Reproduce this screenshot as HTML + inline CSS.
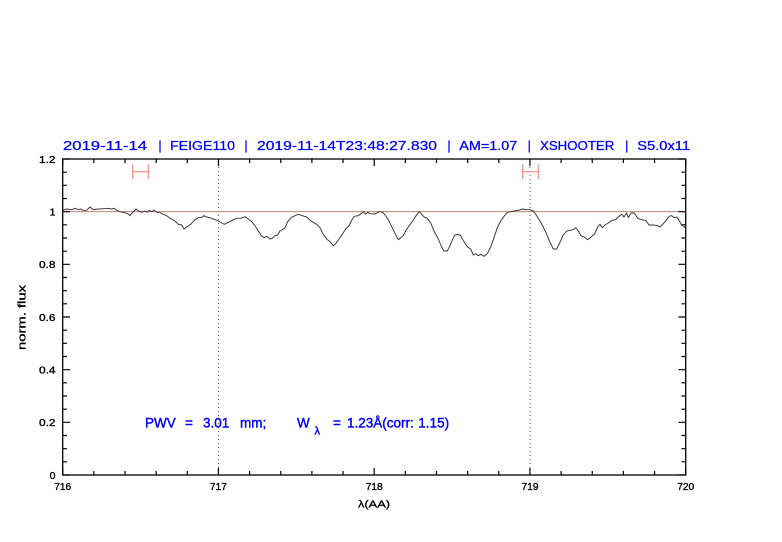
<!DOCTYPE html>
<html>
<head>
<meta charset="utf-8">
<style>
html,body{margin:0;padding:0;background:#fff;}
svg{display:block;}
text{font-family:"Liberation Sans","DejaVu Sans",sans-serif;}
</style>
</head>
<body>
<svg width="782" height="542" viewBox="0 0 782 542" xmlns="http://www.w3.org/2000/svg">
<rect width="782" height="542" fill="#fff"/>

<!-- title -->
<g fill="#0000ff" font-size="12.5" stroke="#0000ff" stroke-width="0.25">
<text x="63" y="150" textLength="84" lengthAdjust="spacingAndGlyphs">2019-11-14</text>
<text x="160" y="150" text-anchor="middle">|</text>
<text x="170" y="150" textLength="65" lengthAdjust="spacingAndGlyphs">FEIGE110</text>
<text x="246" y="150" text-anchor="middle">|</text>
<text x="257" y="150" textLength="180" lengthAdjust="spacingAndGlyphs">2019-11-14T23:48:27.830</text>
<text x="449" y="150" text-anchor="middle">|</text>
<text x="459.3" y="150" textLength="58" lengthAdjust="spacingAndGlyphs">AM=1.07</text>
<text x="529.3" y="150" text-anchor="middle">|</text>
<text x="540" y="150" textLength="74.3" lengthAdjust="spacingAndGlyphs">XSHOOTER</text>
<text x="626.7" y="150" text-anchor="middle">|</text>
<text x="637.3" y="150" textLength="52.7" lengthAdjust="spacingAndGlyphs">S5.0x11</text>
</g>

<!-- dotted verticals -->
<g stroke="#555" stroke-width="1" stroke-dasharray="1,3">
<line x1="218.45" y1="159" x2="218.45" y2="475"/>
<line x1="529.95" y1="159" x2="529.95" y2="475"/>
</g>

<!-- reference line y=1 -->
<line x1="62.7" y1="211.67" x2="685.7" y2="211.67" stroke="#c88080" stroke-width="1"/>

<!-- error bars -->
<g stroke="#ff8a8a" stroke-width="1.2" fill="none">
<line x1="132.7" y1="164.3" x2="132.7" y2="179"/>
<line x1="148.3" y1="164.3" x2="148.3" y2="179"/>
<line x1="132.7" y1="171.7" x2="148.3" y2="171.7"/>
<line x1="522.7" y1="164.3" x2="522.7" y2="179"/>
<line x1="538.3" y1="164.3" x2="538.3" y2="179"/>
<line x1="522.7" y1="171.7" x2="538.3" y2="171.7"/>
</g>

<!-- spectrum -->
<polyline fill="none" stroke="#333" stroke-width="0.95" stroke-linejoin="round" points="
62.7,210 63.3,210 66.7,209 71.7,209.7 75,208.3 78.3,209.7 80.7,209 82.7,210.3 86.7,210.3 90,207 93.3,209.7 98.3,209 103.3,208.7 108.3,208.3 111.7,209 114,208.3 116.7,210.3 120,211.7 125,212.7 128.3,214 130,215.7 131.7,213.3 134,211 136,209 138.3,211 141.7,212.3 145,211 147.3,212.3 149.3,210.3 151.7,211.7 154,210 156.7,212.3 160,212.7 163.3,214.3 166.7,215.7 170,218.3 175,221 178.3,224.3 181.7,225 184,229 186.7,227 190.7,224.3 195,219.7 198.3,217.7 201.7,217.3 204,215.7 206.7,217 211.7,218.3 216.7,220.3
218.3,221 221.7,223 224.3,224.3 226.7,223 230,221.7 233.3,219.7 236.7,218.3 241,218.3 245,216.7 248.3,219 251.7,221.7 255,225.7 258.3,231 261.7,236.3 264.3,237.7 266.7,236.3 270,239 272.3,238.3 275,235.7 277.7,235 280,231 283.3,229 285,227.7 287.7,221.7 291,217.7 295,215.7 298.3,214.3 302.3,215.7 306.7,217 310,220.3 313.3,222.3 316.7,224.3 320,227.7 323.3,234.3 326.7,239 330,241.7 333.3,245.7 335.7,243.7 339,239 342.3,234.3 345.7,229 349,225.7 351.7,220.3 354.3,216.3 358.3,215.7 361.7,213.3 363.3,211.7 365.7,214.3 367.7,212.3 370,213.7
375,214 379.3,211.7 382.7,212.3 385,215 388.3,219.7 391.7,226.7 395,233.3 398.3,239.7 400.7,237.7 403.3,235.7 406,230.3 409.3,225.7 412.7,221 416,215.7 419.3,211.7 421.7,214.3 424,217 427.3,218.3 430.7,223 434,231 438.3,239 441.7,247 444,251 447.3,251 450,245.7 452.7,239 455,235 458.3,234.3 460.7,235.7 464,241.7 467.3,246.7 470.7,249 473.3,255 476,253.7 478.3,255.7 480.7,254.3 484,256.3 487.3,253.7 490.7,247 494,237.7 497.3,227.7 500.7,221 504,216.3 507.3,212.3 510.7,211.7 514,211 518.3,210.3 522.7,209 526.7,209.7 530,209.7
533.3,211 536.7,215.7 540,221 543.3,227 546.7,234.3 550,242.3 553.3,249 556.7,249 560,242.3 563.3,235 566.7,231 570,230.3 573.3,229.7 575.7,227.7 578.3,231 581,235.7 584.3,237 587.7,239.7 591,237 594.3,234.3 597.7,227 600,224.3 602.3,227.7 605,225 608.3,223 612.3,220.3 615.7,219.7 618.3,217 621.7,214.3 624,217 626.7,213 628.3,217.7 631,213 634.3,213 637.7,218.3 641.7,219.7 645.7,220.3 649,225 653.3,225 657.7,225.7 660,227 663.3,223.7 666.7,219.7 669,216.3 671.7,215.7 674.3,217.7 676.7,217 679,220.3 681.7,225 684.3,227 686,228.3"/>

<!-- axes box -->
<rect x="62.7" y="159" width="623" height="316" fill="none" stroke="#000" stroke-width="1.3"/>

<!-- ticks -->
<g stroke="#000" stroke-width="1.2">
<path d="M62.7,475V468 M93.85,475V471 M125,475V471 M156.15,475V471 M187.3,475V471 M218.45,475V468 M249.6,475V471 M280.75,475V471 M311.9,475V471 M343.05,475V471 M374.2,475V468 M405.35,475V471 M436.5,475V471 M467.65,475V471 M498.8,475V471 M529.95,475V468 M561.1,475V471 M592.25,475V471 M623.4,475V471 M654.55,475V471 M685.7,475V468"/>
<path d="M62.7,159V166 M93.85,159V163 M125,159V163 M156.15,159V163 M187.3,159V163 M218.45,159V166 M249.6,159V163 M280.75,159V163 M311.9,159V163 M343.05,159V163 M374.2,159V166 M405.35,159V163 M436.5,159V163 M467.65,159V163 M498.8,159V163 M529.95,159V166 M561.1,159V163 M592.25,159V163 M623.4,159V163 M654.55,159V163 M685.7,159V166"/>
<path d="M62.7,475H70 M62.7,461.83H67 M62.7,448.67H67 M62.7,435.5H67 M62.7,422.33H70 M62.7,409.17H67 M62.7,396H67 M62.7,382.83H67 M62.7,369.67H70 M62.7,356.5H67 M62.7,343.33H67 M62.7,330.17H67 M62.7,317H70 M62.7,303.83H67 M62.7,290.67H67 M62.7,277.5H67 M62.7,264.33H70 M62.7,251.17H67 M62.7,238H67 M62.7,224.83H67 M62.7,211.67H70 M62.7,198.5H67 M62.7,185.33H67 M62.7,172.17H67 M62.7,159H70"/>
<path d="M685.7,475H678.4 M685.7,461.83H681.4 M685.7,448.67H681.4 M685.7,435.5H681.4 M685.7,422.33H678.4 M685.7,409.17H681.4 M685.7,396H681.4 M685.7,382.83H681.4 M685.7,369.67H678.4 M685.7,356.5H681.4 M685.7,343.33H681.4 M685.7,330.17H681.4 M685.7,317H678.4 M685.7,303.83H681.4 M685.7,290.67H681.4 M685.7,277.5H681.4 M685.7,264.33H678.4 M685.7,251.17H681.4 M685.7,238H681.4 M685.7,224.83H681.4 M685.7,211.67H678.4 M685.7,198.5H681.4 M685.7,185.33H681.4 M685.7,172.17H681.4 M685.7,159H678.4"/>
</g>

<!-- y tick labels -->
<g font-size="10.5" fill="#000" stroke="#000" stroke-width="0.35" text-anchor="end">
<text x="55.5" y="162.8" textLength="16.5" lengthAdjust="spacingAndGlyphs">1.2</text>
<text x="55.5" y="215.5">1</text>
<text x="55.5" y="268.1" textLength="16.5" lengthAdjust="spacingAndGlyphs">0.8</text>
<text x="55.5" y="320.8" textLength="16.5" lengthAdjust="spacingAndGlyphs">0.6</text>
<text x="55.5" y="373.5" textLength="16.5" lengthAdjust="spacingAndGlyphs">0.4</text>
<text x="55.5" y="426.1" textLength="16.5" lengthAdjust="spacingAndGlyphs">0.2</text>
<text x="55.5" y="478.8">0</text>
</g>

<!-- x tick labels -->
<g font-size="10.5" fill="#000" stroke="#000" stroke-width="0.35">
<text x="54.2" y="490" textLength="17" lengthAdjust="spacingAndGlyphs">716</text>
<text x="209.9" y="490" textLength="17" lengthAdjust="spacingAndGlyphs">717</text>
<text x="365.7" y="490" textLength="17" lengthAdjust="spacingAndGlyphs">718</text>
<text x="521.5" y="490" textLength="17" lengthAdjust="spacingAndGlyphs">719</text>
<text x="677.2" y="490" textLength="17" lengthAdjust="spacingAndGlyphs">720</text>
</g>

<!-- axis labels -->
<text x="358" y="507.5" font-size="10.5" fill="#000" stroke="#000" stroke-width="0.3" textLength="32" lengthAdjust="spacingAndGlyphs">λ(AA)</text>
<text transform="translate(25.5,317.5) rotate(-90)" x="0" y="0" font-size="11" fill="#000" stroke="#000" stroke-width="0.3" text-anchor="middle" textLength="65" lengthAdjust="spacingAndGlyphs">norm. flux</text>

<!-- annotation -->
<g fill="#0000ff" stroke="#0000ff" stroke-width="0.4" font-size="13.5">
<text x="145" y="427.7">PWV</text>
<text x="185" y="427.7">=</text>
<text x="203" y="427.7">3.01</text>
<text x="240" y="427.7">mm;</text>
<text x="297" y="427.7">W</text>
<text x="314.5" y="434.5" font-size="11">λ</text>
<text x="333" y="427.7">=</text>
<text x="347" y="427.7">1.23Å(corr:</text>
<text x="418.3" y="427.7">1.15)</text>
</g>
</svg>
</body>
</html>
